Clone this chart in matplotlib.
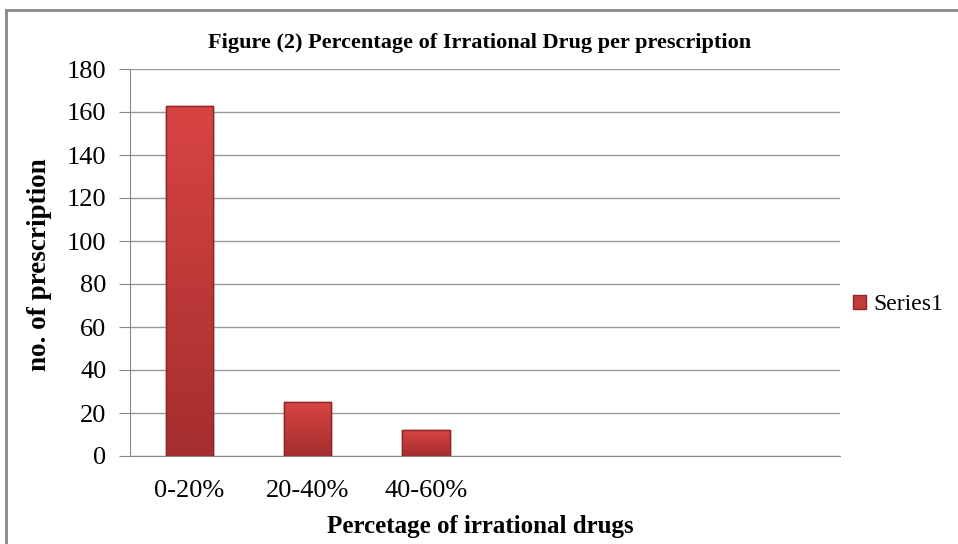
import numpy as np
import matplotlib.pyplot as plt
from matplotlib.lines import Line2D
from matplotlib.colors import LinearSegmentedColormap

# Data
categories = ["0-20%", "20-40%", "40-60%", "", "", ""]
values = [163, 25, 12, 0, 0, 0]
yticks = [0, 20, 40, 60, 80, 100, 120, 140, 160, 180]

plt.rcParams['font.family'] = ['Liberation Serif', 'DejaVu Serif']

W, H = 958, 544
fig = plt.figure(figsize=(W / 100, H / 100), dpi=100)
ax = fig.add_axes([130 / W, 1 - 456 / H, 710 / W, 387 / H])

x = np.arange(len(categories))
shown = [i for i, c in enumerate(categories) if c]
bars = ax.bar(x[shown], [values[i] for i in shown], width=0.4, color='#C23B3B',
              edgecolor='#8E2626', linewidth=1, label='Series1', zorder=3)

# vertical shading on the bars, lighter at top
cmap = LinearSegmentedColormap.from_list('red', ['#A52E2E', '#D84444'])
grad = np.linspace(0, 1, 100).reshape(-1, 1)
for b in bars:
    x0, y0 = b.get_x(), b.get_y()
    im = ax.imshow(grad, cmap=cmap, origin='lower', aspect='auto', zorder=3.5,
                   extent=[x0, x0 + b.get_width(), y0, y0 + b.get_height()])
    im.set_clip_path(b)
    ax.bar(b.get_x() + b.get_width() / 2, b.get_height(), width=b.get_width(),
           facecolor='none', edgecolor='#8E2626', linewidth=1, zorder=4)

ax.set_xlim(-0.5, len(categories) - 0.5)
ax.set_ylim(0, 180)
ax.set_yticks(yticks)
ax.set_xticks(x)
ax.set_xticklabels(categories, fontsize=19)
ax.tick_params(axis='x', length=0, pad=17)
ax.tick_params(axis='y', length=8, color='#888888', labelsize=19, pad=9)
ax.yaxis.grid(True, color='#999999', linewidth=1, zorder=0)

for s in ['top', 'right']:
    ax.spines[s].set_visible(False)
for s in ['left', 'bottom']:
    ax.spines[s].set_color('#888888')

fig.text(480 / W, 1 - 43 / H, "Figure (2) Percentage of Irrational Drug per prescription",
         ha='center', va='center', fontsize=16, fontweight='bold')
fig.text(480 / W, 1 - 527 / H, "Percetage of irrational drugs",
         ha='center', va='center', fontsize=18, fontweight='bold')
fig.text(40 / W, 1 - 265 / H, "no. of prescription", rotation=90,
         ha='center', va='center', fontsize=19.5, fontweight='bold')

fig.legend(loc='center left', bbox_to_anchor=(832 / W, 1 - 305 / H), frameon=False,
           fontsize=17, handlelength=0.55, handleheight=0.55, handletextpad=0.3)

# outer chart border
fig.add_artist(Line2D([6 / W, 6 / W], [0, 1 - 10 / H], transform=fig.transFigure,
                      color='#888888', linewidth=2))
fig.add_artist(Line2D([6 / W, 1], [1 - 10 / H, 1 - 10 / H], transform=fig.transFigure,
                      color='#888888', linewidth=2))

fig.savefig("out.png", dpi=100)
